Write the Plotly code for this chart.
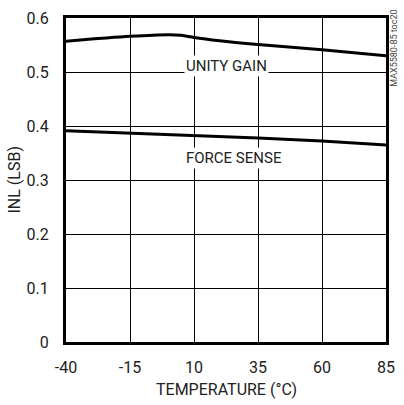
import plotly.graph_objects as go

temp_unity = [-40, -15, 0, 5, 10, 20, 35, 60, 85]
inl_unity = [0.557, 0.566, 0.569, 0.568, 0.564, 0.558, 0.551, 0.541, 0.530]

temp_force = [-40, -15, 10, 35, 60, 85]
inl_force = [0.391, 0.387, 0.383, 0.378, 0.372, 0.365]

x_ticks = [-40, -15, 10, 35, 60, 85]
x_tick_labels = ["-40", "-15", "10", "35", "60", "85"]
y_ticks = [0, 0.1, 0.2, 0.3, 0.4, 0.5, 0.6]
y_tick_labels = ["0", "0.1", "0.2", "0.3", "0.4", "0.5", "0.6"]

FONT = "Roboto, Liberation Sans, sans-serif"

fig = go.Figure()
fig.add_trace(go.Scatter(x=temp_unity, y=inl_unity, mode="lines",
                         line=dict(color="black", width=3, shape="spline", smoothing=0.8),
                         showlegend=False))
fig.add_trace(go.Scatter(x=temp_force, y=inl_force, mode="lines",
                         line=dict(color="black", width=3),
                         showlegend=False))

fig.update_layout(
    width=404, height=405,
    margin=dict(l=66, r=9, t=14, b=63),
    paper_bgcolor="white", plot_bgcolor="white",
    font=dict(family=FONT, size=16, color="#222"),
    xaxis=dict(range=[-40, 85], tickvals=x_ticks, ticktext=x_tick_labels,
               ticks="outside", ticklen=9,
               tickcolor="rgba(0,0,0,0)", showgrid=True, ticklabeloverflow="allow",
               gridcolor="black", gridwidth=1, zeroline=False,
               showline=True, linecolor="black", linewidth=3, mirror=True,
               tickfont=dict(size=16)),
    yaxis=dict(range=[0, 0.6], tickvals=y_ticks, ticktext=y_tick_labels,
               ticks="outside", ticklen=11, tickcolor="rgba(0,0,0,0)",
               ticklabeloverflow="allow",
               showgrid=True, gridcolor="black", gridwidth=1, zeroline=False,
               showline=True, linecolor="black", linewidth=3, mirror=True,
               tickfont=dict(size=16)),
    annotations=[
        dict(text="UNITY GAIN", x=22.7, y=0.5115, xref="x", yref="y",
             showarrow=False, bgcolor="white", font=dict(size=15), borderpad=1,
             xanchor="center", yanchor="middle"),
        dict(text="FORCE SENSE", x=25.7, y=0.341, xref="x", yref="y",
             showarrow=False, bgcolor="white", font=dict(size=15), borderpad=1,
             xanchor="center", yanchor="middle"),
        dict(text="TEMPERATURE (°C)", x=0.5, y=-0.146, xref="paper", yref="paper",
             showarrow=False, font=dict(size=16), xanchor="center", yanchor="middle"),
        dict(text="INL (LSB)", x=-0.164, y=0.5, xref="paper", yref="paper",
             showarrow=False, font=dict(size=16), textangle=-90,
             xanchor="center", yanchor="middle"),
        dict(text="MAX5580-85 toc20", x=1.0, y=0.905, xref="paper", yref="paper",
             showarrow=False, font=dict(size=9, color="#444"), textangle=-90, xshift=1,
             xanchor="left", yanchor="middle"),
    ],
)

fig.write_html("out.html", config={"displayModeBar": False},
               post_script="document.body.style.margin='0';document.body.style.overflow='hidden';")
